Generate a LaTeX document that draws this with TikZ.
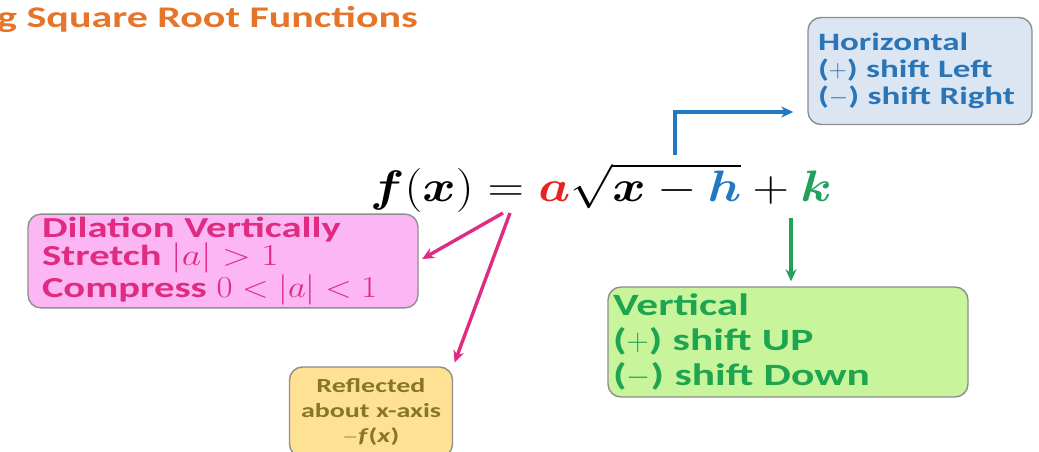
\RequirePackage{fix-cm}
\documentclass[tikz,border=0pt]{standalone}
\usepackage{fontspec}
\usepackage{amsmath,bm,graphicx}
\setmainfont{Carlito}
\newfontfamily\cb[FakeStretch=1.4]{Carlito}
\usetikzlibrary{arrows.meta}
\definecolor{ttl}{HTML}{E5752A}
\definecolor{hfill}{HTML}{DCE6F2}
\definecolor{htext}{HTML}{2A74B8}
\definecolor{pfill}{HTML}{FBB6F3}
\definecolor{ptext}{HTML}{DF2C80}
\definecolor{gfill}{HTML}{C8F59C}
\definecolor{gtext}{HTML}{1FA550}
\definecolor{yfill}{HTML}{FFE194}
\definecolor{ytext}{HTML}{857726}
\definecolor{bord}{HTML}{8E8E8E}
\definecolor{ared}{HTML}{E52321}
\definecolor{ablue}{HTML}{2378C4}
\definecolor{agreen}{HTML}{22A05C}
\begin{document}
\begin{tikzpicture}[x=1pt,y=-1pt,
  box/.style={draw=bord,line width=1.4pt,rounded corners=13pt,align=left,font=\cb\bfseries},
  conn/.style={line width=3.4pt,-{Stealth[length=12pt,width=11pt]}}]
\useasboundingbox (0,0) rectangle (1039,452);
\node[anchor=base west,text=ttl,font=\cb\bfseries\fontsize{30}{36}\selectfont,inner sep=0] (title) at (-3,28) {g Square Root Functions};
\node[inner sep=0] (formula) at (601,188) {\scalebox{1.15}[1]{\fontsize{44}{52}\selectfont$\bm{f}(\bm{x})=\textcolor{ared}{\bm{a}}\sqrt{\bm{x}-\textcolor{ablue}{\bm{h}}}+\textcolor{agreen}{\bm{k}}$}};
\node[box,fill=hfill,text=htext,minimum width=224pt,minimum height=107pt,text width=204pt,inner xsep=10pt,font=\cb\bfseries\fontsize{25}{27}\selectfont] (horiz) at (920,71) {Horizontal\\($+$) shift Left\\($-$) shift Right};
\node[box,fill=pfill,text=ptext,minimum width=390pt,minimum height=84pt,text width=362pt,inner xsep=14pt,inner ysep=3pt,font=\cb\bfseries\fontsize{29}{26}\selectfont] (dil) at (223,261) {Dilation Vertically\\Stretch \scalebox{1.3}[1.05]{$|a|>1$}\\Compress \scalebox{1.2}[1.05]{$0<|a|<1$}};
\node[box,fill=gfill,text=gtext,minimum width=360pt,minimum height=110pt,text width=350pt,inner xsep=5pt,font=\cb\bfseries\fontsize{31}{35}\selectfont] (vert) at (788,342) {Vertical\\($+$) shift UP\\($-$) shift Down};
\node[box,fill=yfill,text=ytext,minimum width=163pt,minimum height=90pt,align=center,font=\cb\bfseries\fontsize{20}{25}\selectfont] (refl) at (371,412) {Reflected\\about x-axis\\$-$\textit{f}(\textit{x})};
\coordinate (pa) at (503,213);
\coordinate (pb) at (510,213);
\coordinate (bh) at (675,155);
\coordinate (hl) at (700,112);
\coordinate (gk) at (791,218);
\draw[conn,ptext,shorten >=4pt] (pa) -- (dil.east);
\draw[conn,ptext,shorten >=4pt] (pb) -- (refl.north east);
\draw[conn,ablue,shorten >=14pt] (bh) |- (horiz.west |- hl);
\draw[conn,agreen,shorten >=5pt] (gk) -- (gk |- vert.north);
\end{tikzpicture}
\end{document}
